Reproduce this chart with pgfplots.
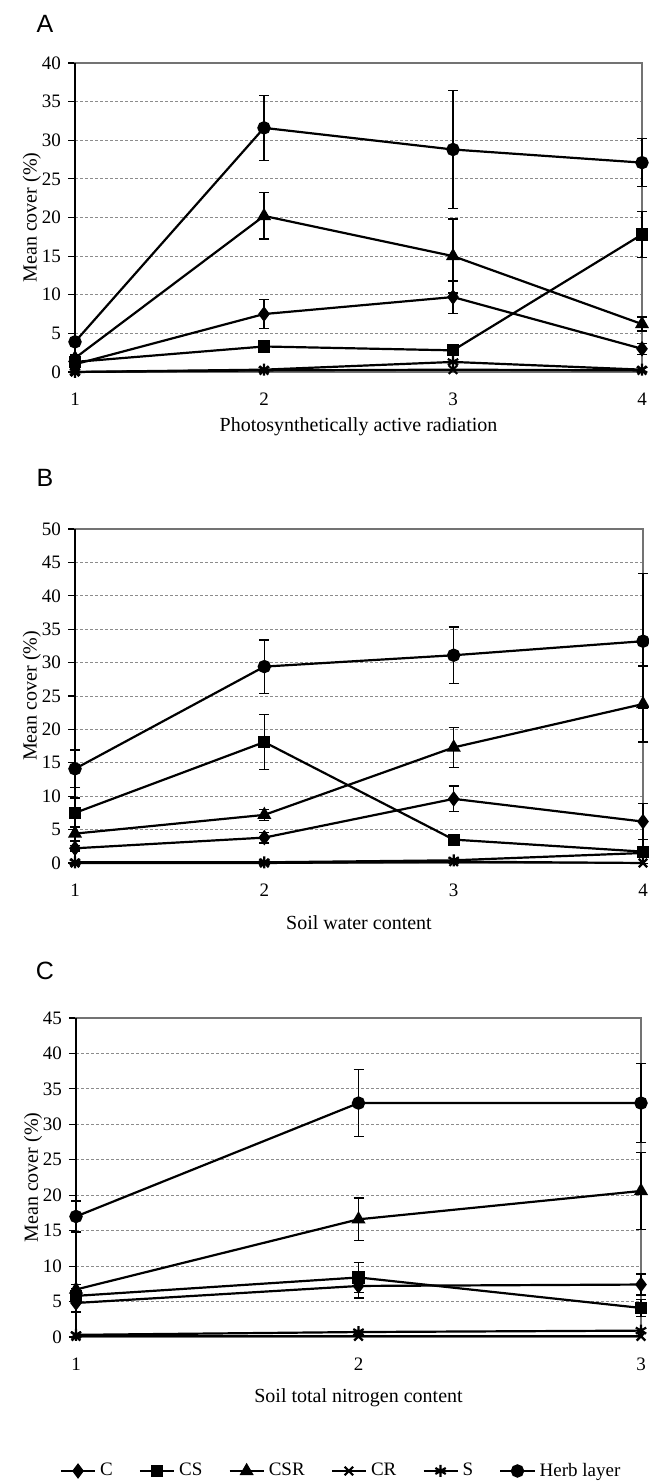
\documentclass[border=0pt]{standalone}
\usepackage{pgfplots}
\pgfplotsset{compat=1.18}
\usepackage{fontspec}
\setmainfont{Liberation Serif}
\newfontfamily\panelfont{Liberation Sans}

\pgfplotsset{
  panel/.style={
    scale only axis,
    anchor=south west,
    xmin=1, ymin=0,
    ytick distance=5,
    ymajorgrids,
    major grid style={black!45, dash pattern=on 1.5pt off 1pt, line width=0.4pt},
    axis line style={black!55, line width=0.6pt},
    ytick pos=left, ytick align=outside,
    xtick style={draw=none},
    ytick style={black, line width=0.6pt},
    major tick length=3.5pt,
    tick label style={font=\fontsize{9.5}{11}\selectfont},
    label style={font=\fontsize{9}{11}\selectfont},
    xticklabel style={yshift=-7pt},
    /pgf/number format/assume math mode=true,
    clip=false,
    every axis y label/.style={at={(axis description cs:-0.076,0.5)}, rotate=90, anchor=center},
    error bars/error bar style={line width=0.7pt, black},
    error bars/error mark options={rotate=90, mark size=2.5pt, line width=0.7pt, black},
  },
  base/.style={black, line width=1.1pt, mark options={solid, fill=black}},
  sC/.style={base, mark=diamond*, mark size=3pt},
  sCS/.style={base, mark=square*, mark size=2.5pt},
  sCSR/.style={base, mark=triangle*, mark size=3pt},
  sCR/.style={base, mark=x, mark size=3pt},
  sS/.style={base, mark=asterisk, mark size=3pt},
  sH/.style={base, mark=*, mark size=2.8pt},
  eb/.style={error bars/.cd, y dir=both, y explicit},
}

\begin{document}
\begin{tikzpicture}
\useasboundingbox (0,0) rectangle (324pt,740.5pt);

\node[font=\panelfont\fontsize{12.5}{14}\selectfont] at (22.5pt,728.5pt) {A};
\node[font=\panelfont\fontsize{12.5}{14}\selectfont] at (22.5pt,501.5pt) {B};
\node[font=\panelfont\fontsize{12.5}{14}\selectfont] at (22.5pt,255pt) {C};

% A: photosynthetically active radiation
\begin{axis}[panel, at={(37.5pt,554.5pt)}, width=283.5pt, height=154.5pt,
  xmax=4, ymax=40, xtick={1,2,3,4},
  xlabel={Photosynthetically active radiation}, ylabel={Mean cover (\%)},
  every axis x label/.style={at={(axis description cs:0.5,-0.178)}, anchor=center}]
\draw[black, line width=0.8pt] (rel axis cs:0,0) -- (rel axis cs:0,1);
\addplot[sCR] coordinates {(1,0) (2,0.2) (3,0.3) (4,0.2)};
\addplot[sS] coordinates {(1,0) (2,0.3) (3,1.3) (4,0.3)};
\addplot[sC, eb] coordinates {(1,1.0) +- (0,0.3) (2,7.5) +- (0,1.9) (3,9.7) +- (0,2.1) (4,3.0) +- (0,0.7)};
\addplot[sCS, eb] coordinates {(1,1.3) +- (0,0.4) (2,3.3) +- (0,0.3) (3,2.8) +- (0,0.3) (4,17.8) +- (0,3.0)};
\addplot[sCSR, eb] coordinates {(1,1.8) +- (0,0.4) (2,20.2) +- (0,3.0) (3,15.0) +- (0,4.8) (4,6.2) +- (0,0.9)};
\addplot[sH, eb] coordinates {(1,3.9) +- (0,0.5) (2,31.6) +- (0,4.2) (3,28.8) +- (0,7.6) (4,27.1) +- (0,3.1)};
\end{axis}

% B: soil water content
\begin{axis}[panel, at={(37.5pt,309pt)}, width=284pt, height=167pt,
  xmax=4, ymax=50, xtick={1,2,3,4},
  xlabel={Soil water content}, ylabel={Mean cover (\%)},
  every axis x label/.style={at={(axis description cs:0.5,-0.18)}, anchor=center}]
\draw[black, line width=0.8pt] (rel axis cs:0,0) -- (rel axis cs:0,1);
\addplot[sCR] coordinates {(1,0) (2,0) (3,0.2) (4,0)};
\addplot[sS] coordinates {(1,0.1) (2,0.1) (3,0.4) (4,1.5)};
\addplot[sC, eb] coordinates {(1,2.2) +- (0,0.4) (2,3.8) +- (0,0.8) (3,9.6) +- (0,1.9) (4,6.2) +- (0,2.7)};
\addplot[sCS, eb] coordinates {(1,7.5) +- (0,2.2) (2,18.1) +- (0,4.1) (3,3.5) +- (0,0.3) (4,1.7) +- (0,1.8)};
\addplot[sCSR, eb] coordinates {(1,4.4) +- (0,1.1) (2,7.2) +- (0,0.8) (3,17.3) +- (0,3.0) (4,23.8) +- (0,5.7)};
\addplot[sH, eb] coordinates {(1,14.1) +- (0,2.8) (2,29.4) +- (0,4.0) (3,31.1) +- (0,4.2) (4,33.2) +- (0,10.1)};
\end{axis}

% C: soil total nitrogen content
\begin{axis}[panel, at={(38pt,72pt)}, width=282.5pt, height=159.5pt,
  xmax=3, ymax=45, xtick={1,2,3},
  xlabel={Soil total nitrogen content}, ylabel={Mean cover (\%)},
  every axis x label/.style={at={(axis description cs:0.5,-0.19)}, anchor=center},
  legend columns=6,
  legend style={at={(axis description cs:0.471,-0.42)}, anchor=center,
    draw=none, fill=none, font=\fontsize{9.5}{11}\selectfont,
    /tikz/every even column/.append style={column sep=11pt}},
  legend cell align=left]
\draw[black, line width=0.8pt] (rel axis cs:0,0) -- (rel axis cs:0,1);
\addplot[sC, eb] coordinates {(1,4.8) +- (0,1.3) (2,7.2) +- (0,1.7) (3,7.4) +- (0,1.5)};
\addlegendentry{C}
\addplot[sCS, eb] coordinates {(1,5.8) +- (0,1.0) (2,8.4) +- (0,2.1) (3,4.1) +- (0,1.2)};
\addlegendentry{CS}
\addplot[sCSR, eb] coordinates {(1,6.7) +- (0,0.7) (2,16.6) +- (0,3.0) (3,20.6) +- (0,5.4)};
\addlegendentry{CSR}
\addplot[sCR] coordinates {(1,0.1) (2,0.1) (3,0.1)};
\addlegendentry{CR}
\addplot[sS] coordinates {(1,0.3) (2,0.7) (3,0.9)};
\addlegendentry{S}
\addplot[sH, eb] coordinates {(1,17.0) +- (0,2.2) (2,33.0) +- (0,4.7) (3,33.0) +- (0,5.6)};
\addlegendentry{Herb layer}
\end{axis}
\end{tikzpicture}
\end{document}
